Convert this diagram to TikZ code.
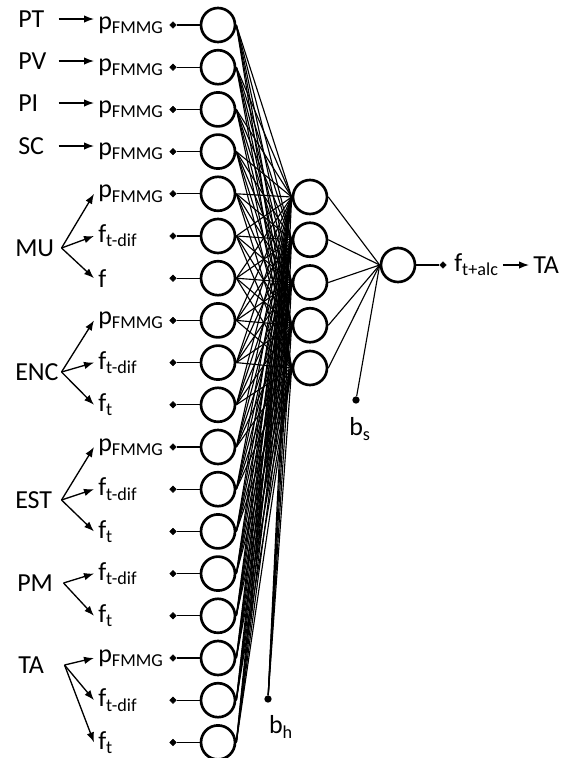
\documentclass[tikz,border=0pt]{standalone}
\usepackage{fontspec}
\setmainfont{Carlito}
\usetikzlibrary{arrows.meta,shapes.geometric}
\newcommand{\pF}{p\textsubscript{FMMG}}
\newcommand{\fdif}{f\textsubscript{t-dif}}
\newcommand{\ftt}{f\textsubscript{t}}

\begin{document}
\begin{tikzpicture}[x=0.75pt,y=-0.75pt,>=Latex,font=\fontsize{19.5}{23}\selectfont,
  neuron/.style={draw,circle,line width=2pt,minimum size=25.5pt,inner sep=0pt},
  feeddot/.style={draw,fill,diamond,inner sep=0pt,minimum size=5pt},
  biasdot/.style={circle,fill,inner sep=0pt,minimum size=5.5pt},
  inlabel/.style={anchor=west,inner sep=3pt},
  srclabel/.style={anchor=west,inner sep=0pt,text width=30pt},
  grplabel/.style={anchor=west,inner sep=0pt,text width=34.5pt},
  wire/.style={line width=0.85pt},
  feed/.style={line width=1pt,->}]
\useasboundingbox (0,0) rectangle (563,758);
% input layer
\foreach \i/\txt in {1/\pF,2/\pF,3/\pF,4/\pF,5/\pF,6/\fdif,7/f,8/\pF,9/\fdif,
  10/\ftt,11/\pF,12/\fdif,13/\ftt,14/\fdif,15/\ftt,16/\pF,17/\fdif,18/\ftt} {
  \node[neuron] (in\i) at (218,{25+(\i-1)*42.2}) {};
  \node[feeddot] (d\i) at (173,{25+(\i-1)*42.2}) {};
  \node[inlabel] (x\i) at (94,{25+(\i-1)*42.2}) {\txt};
  \draw[line width=1pt] (d\i) -- (in\i);
}
% hidden and output layer
\foreach \j in {1,...,5}
  \node[neuron] (h\j) at (310,{197+(\j-1)*42.75}) {};
\node[neuron] (out) at (398,265) {};
\foreach \i in {1,...,18}
  \foreach \j in {1,...,5}
    \draw[wire] (in\i.east) -- (h\j.west);
\foreach \j in {1,...,5}
  \draw[wire] (h\j.east) -- (out.west);
% biases
\node[biasdot] (bs) at (356,400) {};
\node (bslbl) at (360,429) {b\textsubscript{s}};
\draw[wire] (bs) -- (out.west);
\node[biasdot] (bh) at (268,699) {};
\node (bhlbl) at (281,727) {b\textsubscript{h}};
\foreach \j in {1,...,5}
  \draw[wire] (bh) -- (h\j.west);
% output
\node[feeddot] (dout) at (443,265) {};
\draw[line width=1pt] (out.east) -- (dout);
\node[inlabel] (fout) at (450,265) {f\textsubscript{t+alc}};
\node[inlabel] (TAout) at (529,265) {TA};
\draw[feed] (fout) -- (TAout);
% sources
\node[srclabel] (PT) at (18,19) {PT};
\node[srclabel] (PV) at (18,61) {PV};
\node[srclabel] (PI) at (18,103) {PI};
\node[srclabel] (SC) at (18,146) {SC};
\draw[feed] (PT.east) -- (PT.east -| x1.west);
\draw[feed] (PV.east) -- (PV.east -| x2.west);
\draw[feed] (PI.east) -- (PI.east -| x3.west);
\draw[feed] (SC.east) -- (SC.east -| x4.west);
\node[grplabel] (MU) at (15,248) {MU};
\node[grplabel] (ENC) at (15,372) {ENC};
\node[grplabel] (EST) at (15,500) {EST};
\node[grplabel] (PM) at (17,583) {PM};
\node[grplabel] (TA) at (18,665) {TA};
\foreach \g/\a/\b in {MU/5/7,ENC/8/10,EST/11/13,PM/14/15,TA/16/18}
  \foreach \k in {\a,...,\b}
    \draw[feed] (\g.east) -- (x\k.west);
\end{tikzpicture}
\end{document}
